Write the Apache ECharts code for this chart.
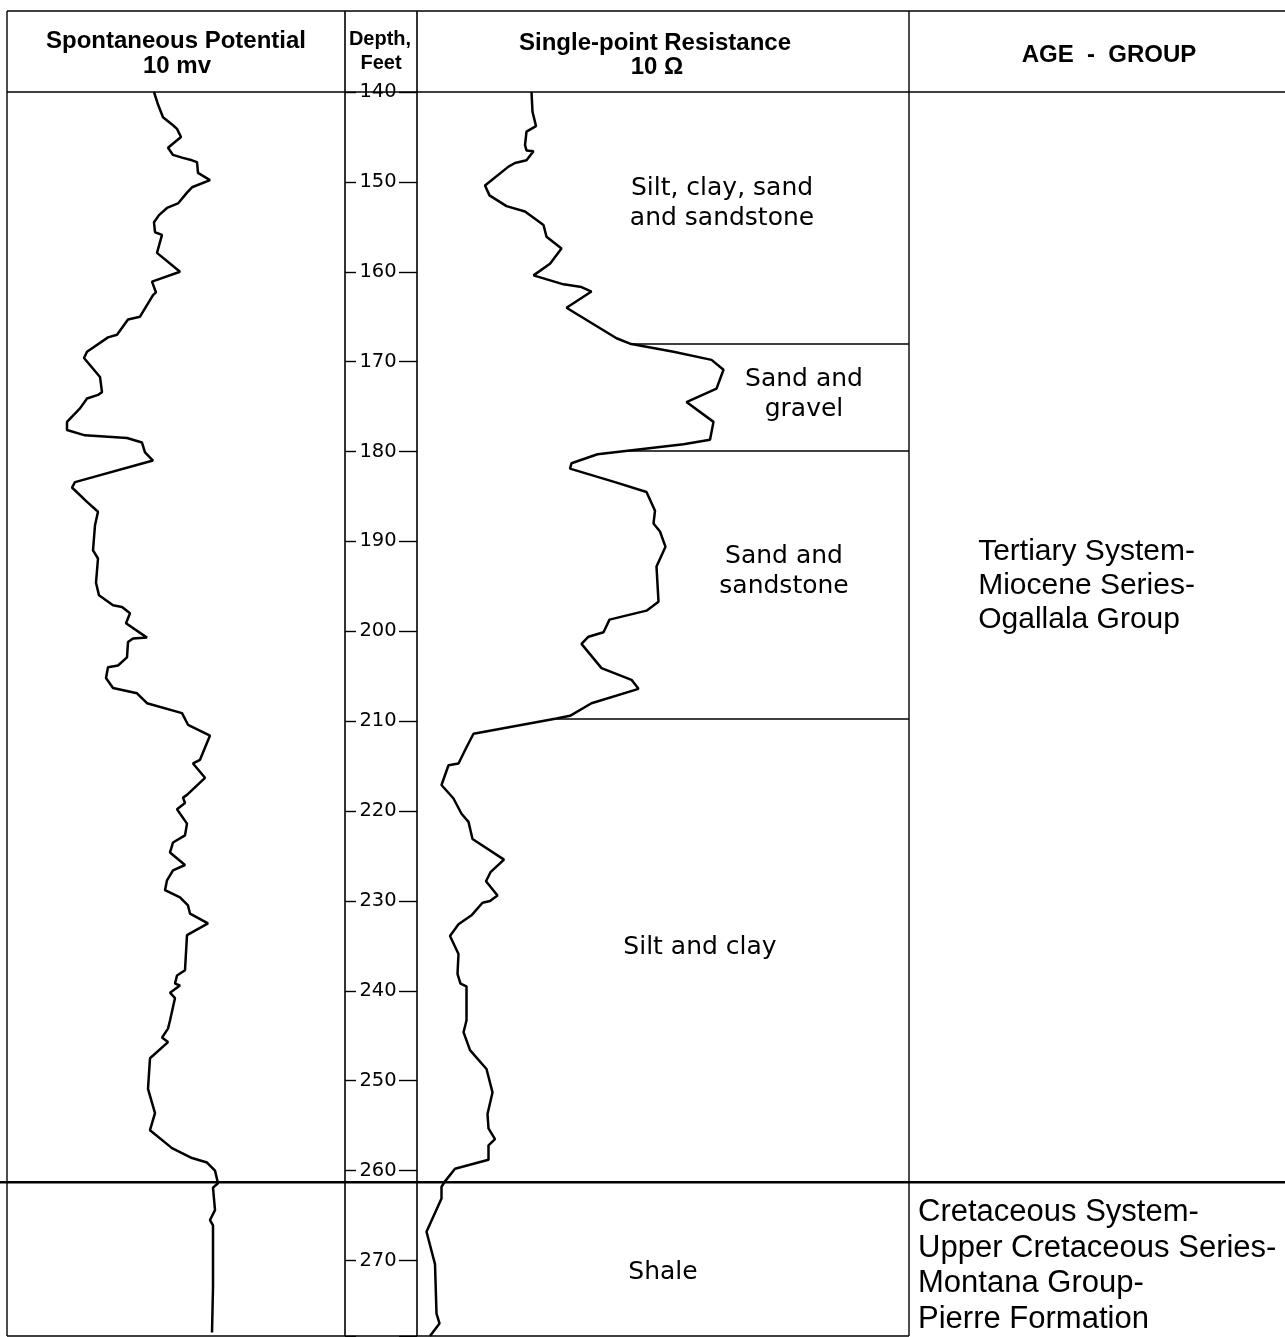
<!DOCTYPE html>
<html>
<head>
<meta charset="utf-8">
<title>Well log</title>
<script src="https://cdn.jsdelivr.net/npm/echarts@6/dist/echarts.min.js"></script>
<style>
  html, body { margin: 0; padding: 0; background: #fff; }
  #main { width: 1285px; height: 1337px; }
</style>
</head>
<body>
<div id="main"></div>
<script>
// ---- Spontaneous potential log (depth in feet, deflection in mv) ----
const spDepth = [
  140.0, 141.4, 142.8, 143.7, 144.1, 145.0, 146.2, 147.0, 147.3, 147.6,
  147.8, 149.0, 149.8, 150.6, 151.2, 152.4, 152.9, 153.7, 154.5, 155.6,
  155.9, 157.9, 160.0, 161.1, 162.3, 162.6, 165.0, 165.3, 167.0, 167.3,
  168.9, 169.6, 171.7, 173.4, 173.7, 174.1, 175.2, 176.7, 177.6, 178.2,
  178.5, 179.0, 180.1, 181.0, 183.4, 184.0, 185.6, 186.7, 188.2, 191.0,
  191.9, 194.6, 196.0, 197.1, 197.3, 198.0, 199.1, 200.7, 200.8, 201.2,
  202.9, 203.8, 204.0, 205.2, 206.3, 206.9, 208.0, 209.1, 210.4, 211.6,
  214.3, 214.7, 216.3, 218.2, 218.5, 219.1, 219.8, 221.4, 222.7, 223.5,
  224.6, 226.0, 226.6, 227.7, 228.8, 229.6, 230.5, 231.4, 232.5, 233.8,
  237.7, 238.3, 239.2, 239.4, 240.2, 240.8, 243.3, 244.2, 245.2, 245.7,
  247.5, 250.9, 253.6, 255.5, 257.5, 258.6, 259.1, 260.0, 261.4, 261.9,
  264.4, 265.5, 266.1, 273.0, 278.0
];
const spMv = [
  29.4, 30.2, 31.2, 33.2, 34.0, 34.8, 32.2, 33.2, 35.0, 37.0,
  38.0, 38.2, 40.6, 37.0, 36.0, 34.2, 32.0, 30.4, 29.4, 29.6,
  31.0, 30.0, 34.6, 29.0, 29.8, 29.2, 26.6, 24.2, 22.0, 20.2,
  16.0, 15.4, 18.6, 19.0, 18.2, 16.0, 14.6, 12.0, 12.0, 15.6,
  24.0, 27.0, 27.6, 29.2, 13.6, 13.0, 16.0, 18.2, 17.6, 17.2,
  18.2, 17.8, 18.4, 21.2, 23.0, 24.6, 23.8, 28.0, 25.2, 24.2,
  24.0, 22.2, 20.2, 19.8, 21.2, 26.0, 28.0, 35.0, 36.2, 40.6,
  38.6, 37.2, 39.6, 36.0, 35.2, 35.6, 34.0, 36.0, 35.6, 33.2,
  32.6, 35.6, 33.2, 32.0, 31.6, 34.6, 36.2, 36.6, 40.2, 36.0,
  35.6, 34.0, 33.6, 34.6, 32.6, 33.6, 32.6, 32.2, 31.0, 32.2,
  28.6, 28.2, 29.6, 28.6, 33.0, 37.0, 40.0, 41.6, 42.2, 41.2,
  41.6, 40.6, 41.2, 41.2, 41.0
];

// ---- Single-point resistance log (depth in feet, ohms) ----
const resDepth = [
  140.0, 142.2, 143.8, 144.4, 145.9, 146.5, 146.6, 147.6, 147.9, 148.3,
  150.4, 151.5, 152.7, 153.3, 154.8, 156.1, 157.4, 159.1, 160.4, 161.4,
  161.7, 162.2, 164.0, 167.4, 168.0, 168.9, 169.8, 170.9, 173.0, 174.5,
  176.7, 178.7, 179.2, 180.3, 181.3, 181.9, 183.4, 184.5, 186.6, 188.0,
  188.9, 190.6, 192.8, 196.7, 197.7, 198.7, 200.1, 200.6, 201.4, 204.1,
  205.4, 206.4, 208.0, 209.4, 209.7, 211.4, 212.9, 214.7, 214.9, 217.1,
  218.6, 220.3, 221.2, 223.1, 225.4, 226.8, 227.8, 229.4, 230.0, 230.2,
  231.6, 232.6, 233.9, 235.9, 238.1, 239.2, 239.5, 243.3, 243.5, 244.6,
  246.6, 248.7, 251.3, 253.7, 255.3, 256.5, 257.2, 258.8, 259.8, 261.2,
  261.8, 263.1, 266.8, 270.4, 275.9, 277.0, 278.4
];
const resOhm = [
  22.9, 23.1, 23.8, 21.9, 21.6, 21.9, 23.3, 21.9, 19.6, 18.3,
  13.6, 14.5, 17.9, 21.6, 25.3, 25.9, 28.9, 26.6, 23.3, 29.3,
  32.9, 34.9, 29.9, 39.9, 42.6, 51.3, 58.9, 61.3, 59.9, 53.9,
  59.3, 58.6, 53.3, 36.1, 30.9, 30.6, 39.6, 45.9, 47.6, 47.3,
  48.6, 49.7, 47.9, 48.3, 45.9, 38.5, 37.3, 34.3, 32.9, 36.9,
  42.9, 44.3, 34.9, 30.6, 27.9, 11.3, 9.9, 8.3, 6.3, 4.9,
  7.3, 8.9, 10.3, 11.1, 17.4, 14.7, 13.8, 16.1, 14.6, 13.1,
  10.9, 8.3, 6.6, 8.3, 8.1, 8.7, 9.9, 9.9, 10.3, 9.3,
  10.6, 13.9, 15.1, 14.1, 14.3, 15.6, 14.3, 14.3, 7.6, 5.6,
  4.9, 4.9, 1.9, 3.6, 3.9, 4.5, 2.6
];

// ---- Lithology units and stratigraphic ages ----
const lithNames = [
  'Silt, clay, sand\nand sandstone',
  'Sand and\ngravel',
  'Sand and\nsandstone',
  'Silt and clay',
  'Shale'
];
const lithTop = [140.0, 168.0, 179.9, 209.7, 261.3];
const lithBase = [168.0, 179.9, 209.7, 261.3, 278.4];
const ageNames = [
  'Tertiary System-\nMiocene Series-\nOgallala Group',
  'Cretaceous System-\nUpper Cretaceous Series-\nMontana Group-\nPierre Formation'
];
const ageTop = [140.0, 261.3];
const ageBase = [261.3, 278.4];
const depthTicks = [140, 150, 160, 170, 180, 190, 200, 210, 220, 230, 240, 250, 260, 270];

// ---- layout ----
const DEPTH_MIN = 140, DEPTH_MAX = 278.4;
const COLS = { sp: [7, 345], depth: [345, 417], res: [417, 909], age: [909, 1285] };
const TOP = 11, HEAD = 92, BOTTOM = 1336;
const SP_MAX = (COLS.sp[1] - COLS.sp[0]) / 5;
const RES_MAX = (COLS.res[1] - COLS.res[0]) / 5;
// label placement inside each unit: [x in axis units, depth]
const lithLabelPos = [[61, 152.4], [77.4, 173.6], [73.4, 193.3], [56.6, 235.2], [49.2, 271.3]];
const ageLabelPos = [[18.4, 194.9], [2.4, 270.6]];
const ageLabelFont = [[30, 34], [31, 35.5]];

const BLACK = '#000';
const chart = echarts.init(document.getElementById('main'), null, { renderer: 'canvas' });

function resAt(d) {
  for (let i = 1; i < resDepth.length; i++) {
    if (resDepth[i] >= d) {
      const t = (d - resDepth[i - 1]) / (resDepth[i] - resDepth[i - 1]);
      return resOhm[i - 1] + t * (resOhm[i] - resOhm[i - 1]);
    }
  }
  return resOhm[resOhm.length - 1];
}

const gridOf = c => ({ left: c[0], top: HEAD, width: c[1] - c[0], height: BOTTOM - HEAD });
const hiddenX = (gi, max) => ({
  gridIndex: gi, type: 'value', min: 0, max: max,
  axisLine: { show: false }, axisTick: { show: false }, axisLabel: { show: false }, splitLine: { show: false }
});
const baseY = gi => ({
  gridIndex: gi, type: 'value', inverse: true, min: DEPTH_MIN, max: DEPTH_MAX, interval: 10,
  axisLine: { show: false }, axisTick: { show: false }, axisLabel: { show: false }, splitLine: { show: false }
});

const boundaries = lithTop.slice(1, 4);

chart.setOption({
  animation: false,
  backgroundColor: '#fff',
  grid: [gridOf(COLS.sp), gridOf(COLS.depth), gridOf(COLS.res), gridOf(COLS.age)],
  xAxis: [hiddenX(0, SP_MAX), hiddenX(1, 1), hiddenX(2, RES_MAX), hiddenX(3, 100)],
  yAxis: [
    baseY(0),
    Object.assign(baseY(1), {
      position: 'left',
      axisTick: { show: true, inside: true, length: 11, lineStyle: { color: BLACK, width: 1.4 } },
      axisLabel: {
        show: true, inside: true, align: 'center', margin: 33,
        fontFamily: 'DejaVu Sans', fontSize: 19.5, color: BLACK,
        customValues: depthTicks
      }
    }),
    Object.assign(baseY(1), {
      position: 'right',
      axisTick: { show: true, inside: true, length: 18, lineStyle: { color: BLACK, width: 1.4 } }
    }),
    baseY(2),
    baseY(3)
  ],
  series: [
    {
      type: 'line', name: 'Spontaneous Potential', xAxisIndex: 0, yAxisIndex: 0,
      data: spDepth.map((d, i) => [spMv[i], d]),
      symbol: 'none', lineStyle: { color: BLACK, width: 2.5 }, silent: true
    },
    {
      type: 'line', name: 'Single-point Resistance', xAxisIndex: 2, yAxisIndex: 3,
      data: resDepth.map((d, i) => [resOhm[i], d]),
      symbol: 'none', lineStyle: { color: BLACK, width: 2.5 }, silent: true,
      markLine: {
        silent: true, symbol: 'none', label: { show: false },
        lineStyle: { color: BLACK, width: 1.5, type: 'solid' },
        data: boundaries.map(d => [{ coord: [resAt(d), d] }, { coord: [RES_MAX, d] }])
      }
    },
    {
      type: 'scatter', name: 'Lithology', xAxisIndex: 2, yAxisIndex: 3,
      symbolSize: 0, silent: true, itemStyle: { opacity: 1 },
      data: lithNames.map((n, i) => ({ value: lithLabelPos[i], name: n })),
      label: {
        show: true, position: 'inside', formatter: p => p.name,
        fontFamily: 'DejaVu Sans', fontSize: 25, lineHeight: 30, color: BLACK, align: 'center'
      }
    },
    {
      type: 'scatter', name: 'Age - Group', xAxisIndex: 3, yAxisIndex: 4,
      symbolSize: 0, silent: true, itemStyle: { opacity: 1 },
      data: ageNames.map((n, i) => ({
        value: ageLabelPos[i], name: n,
        label: { fontSize: ageLabelFont[i][0], lineHeight: ageLabelFont[i][1] }
      })),
      label: {
        show: true, position: 'right', distance: 0, formatter: p => p.name,
        fontFamily: 'Liberation Sans, Arial', color: BLACK
      }
    }
  ]
});

// frame, header and the formation contact across all columns
const contactY = chart.convertToPixel({ gridIndex: 0 }, [0, ageTop[1]])[1];
const ln = (x1, y1, x2, y2, w) => ({
  type: 'line', silent: true, shape: { x1, y1, x2, y2 },
  style: { stroke: BLACK, lineWidth: w || 1.4 }
});
const headText = (x, y, text, size, weight) => ({
  type: 'text', silent: true, x, y,
  style: {
    text, x: 0, y: 0, align: 'center', verticalAlign: 'middle',
    font: (weight || 'bold') + ' ' + size + 'px "Liberation Sans", Arial, sans-serif',
    fill: BLACK
  }
});
chart.setOption({
  graphic: [
    ln(COLS.sp[0], TOP, 1285, TOP, 1.6),
    ln(COLS.sp[0], HEAD, 1285, HEAD, 1.6),
    ln(COLS.sp[0], TOP, COLS.sp[0], BOTTOM),
    ln(COLS.depth[0], TOP, COLS.depth[0], BOTTOM, 1.6),
    ln(COLS.res[0], TOP, COLS.res[0], BOTTOM, 1.6),
    ln(COLS.age[0], TOP, COLS.age[0], BOTTOM),
    ln(COLS.sp[0], BOTTOM, COLS.age[0], BOTTOM),
    ln(0, contactY, 1285, contactY, 2.6),
    headText(176, 41, 'Spontaneous Potential', 24),
    headText(177, 66, '10 mv', 24),
    headText(380, 39, 'Depth,', 20),
    headText(381, 63, 'Feet', 20),
    headText(655, 43, 'Single-point Resistance', 24),
    headText(657, 67, '10 \u03A9', 24),
    headText(1109, 55, 'AGE  -  GROUP', 24)
  ]
});
</script>
</body>
</html>
